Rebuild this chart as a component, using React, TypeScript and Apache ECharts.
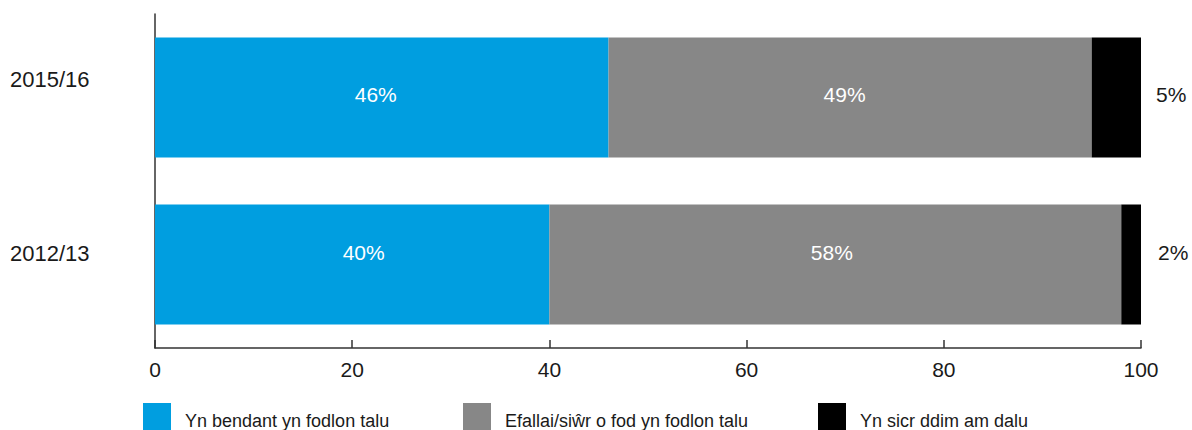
import React, { useEffect, useRef } from "react";
import * as echarts from "echarts";

const categories = ["2012/13", "2015/16"];
const seriesNames = [
  "Yn bendant yn fodlon talu",
  "Efallai/siŵr o fod yn fodlon talu",
  "Yn sicr ddim am dalu",
];
const definitelyWilling = [40, 46];
const maybeWilling = [58, 49];
const definitelyNot = [2, 5];
const xTicks = [0, 20, 40, 60, 80, 100];

const colors = ["#009EE0", "#878787", "#000000"];
const FONT = "'Liberation Sans', Arial, sans-serif";
const TEXT = "#1a1a1a";

// small per-bar label nudges (style only)
const blueOffsets = [[11.5, -12], [-6, -3.5]];
const grayOffsets = [[-3.5, -12], [-5.5, -3.5]];
const blackOffsets = [[2, -12], [0, -3.5]];

export default function App() {
  const ref = useRef<HTMLDivElement>(null);

  useEffect(() => {
    if (!ref.current) return;
    const chart = echarts.init(ref.current, undefined, { renderer: "svg" });

    const mk = (vals: number[], offs: number[][]) =>
      vals.map((v, i) => ({ value: v, label: { offset: offs[i] } }));

    const insideLabel = {
      show: true,
      position: "inside",
      color: "#ffffff",
      fontSize: 21,
      fontFamily: FONT,
      formatter: "{c}%",
    };

    const legendBase = (name: string, left: number) => ({
      data: [name],
      left,
      top: 403,
      padding: 0,
      itemWidth: 28,
      itemHeight: 28,
      icon: "rect",
      selectedMode: false,
      formatter: "{t|{name}}",
      textStyle: {
        fontSize: 18,
        fontFamily: FONT,
        color: TEXT,
        rich: {
          t: { fontSize: 18, fontFamily: FONT, color: TEXT, padding: [7, 0, 0, 9] },
        },
      },
    });

    chart.setOption({
      animation: false,
      grid: { left: 155, right: 51, top: 14, bottom: 82, containLabel: false },
      legend: [
        legendBase(seriesNames[0], 143),
        legendBase(seriesNames[1], 463),
        legendBase(seriesNames[2], 818),
      ],
      xAxis: {
        type: "value",
        min: xTicks[0],
        max: xTicks[xTicks.length - 1],
        interval: xTicks[1] - xTicks[0],
        splitLine: { show: false },
        axisLine: { show: true, lineStyle: { color: "#333", width: 1.5 } },
        axisTick: { show: true, inside: true, length: 8, lineStyle: { color: "#333", width: 1.5 } },
        axisLabel: { fontSize: 21, fontFamily: FONT, color: TEXT, margin: 11 },
      },
      yAxis: {
        type: "category",
        data: categories,
        axisLine: { show: true, lineStyle: { color: "#333", width: 1.5 } },
        axisTick: { show: false },
        axisLabel: {
          align: "left",
          margin: 145,
          formatter: (v: string) => (v === categories[1] ? `{a|${v}}` : `{b|${v}}`),
          rich: {
            a: { fontSize: 22, fontFamily: FONT, color: TEXT, padding: [0, 0, 36, 0] },
            b: { fontSize: 22, fontFamily: FONT, color: TEXT, padding: [0, 0, 22, 0] },
          },
        },
      },
      series: [
        {
          name: seriesNames[0],
          type: "bar",
          stack: "total",
          barWidth: 120,
          itemStyle: { color: colors[0] },
          label: insideLabel,
          data: mk(definitelyWilling, blueOffsets),
        },
        {
          name: seriesNames[1],
          type: "bar",
          stack: "total",
          barWidth: 120,
          itemStyle: { color: colors[1] },
          label: insideLabel,
          data: mk(maybeWilling, grayOffsets),
        },
        {
          name: seriesNames[2],
          type: "bar",
          stack: "total",
          barWidth: 120,
          itemStyle: { color: colors[2] },
          label: {
            show: true,
            position: "right",
            distance: 15,
            color: TEXT,
            fontSize: 21,
            fontFamily: FONT,
            formatter: "{c}%",
          },
          data: mk(definitelyNot, blackOffsets),
        },
      ],
    });

    return () => chart.dispose();
  }, []);

  return (
    <div
      ref={ref}
      style={{ position: "fixed", left: 0, top: 0, width: 1192, height: 430, background: "#fff" }}
    />
  );
}
